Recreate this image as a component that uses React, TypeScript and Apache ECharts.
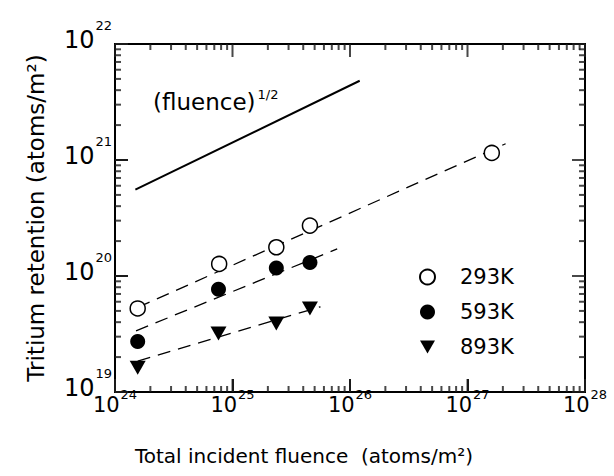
import React, { useEffect, useRef } from "react";
import * as echarts from "echarts";

const FONT = "DejaVu Sans";
const X_MIN = 1e24;
const X_MAX = 1e28;
const Y_MIN = 1e19;
const Y_MAX = 1e22;

// tick definitions
const xDecades = [24, 25, 26, 27, 28];
const yDecades = [19, 20, 21, 22];
const minorMultipliers = [2, 3, 4, 5, 6, 7, 8, 9];

// measured data
const fluence293 = [1.56e24, 7.7e24, 2.36e25, 4.56e25, 1.61e27];
const retention293 = [5.25e19, 1.27e20, 1.77e20, 2.72e20, 1.15e21];
const fluence593 = [1.56e24, 7.6e24, 2.36e25, 4.56e25];
const retention593 = [2.72e19, 7.7e19, 1.17e20, 1.31e20];
const fluence893 = [1.56e24, 7.6e24, 2.36e25, 4.56e25];
const retention893 = [1.62e19, 3.19e19, 3.9e19, 5.25e19];

// fitted (dashed) lines
const fit293X = [1.56e24, 2.11e27];
const fit293Y = [5.36e19, 1.38e21];
const fit593X = [1.51e24, 7.78e25];
const fit593Y = [3.37e19, 1.71e20];
const fit893X = [1.56e24, 5.61e25];
const fit893Y = [1.85e19, 5.43e19];

// (fluence)^1/2 reference line
const sqrtX = [1.49e24, 1.21e26];
const sqrtY = [5.55e20, 4.82e21];

const zip = (xs: number[], ys: number[]) => xs.map((x, i) => [x, ys[i]]);

const MAJOR_LEN = 13;
const MINOR_LEN = 6;
const TICK_W = 2;
const TICK_COLOR = "#1a1a1a";

// tick list: [value, isMajor]
const xTicks: number[][] = [];
xDecades.forEach((d, i) => {
  xTicks.push([Math.pow(10, d), 1]);
  if (i < xDecades.length - 1) minorMultipliers.forEach((m) => xTicks.push([m * Math.pow(10, d), 0]));
});
const yTicks: number[][] = [];
yDecades.forEach((d, i) => {
  yTicks.push([Math.pow(10, d), 1]);
  if (i < yDecades.length - 1) minorMultipliers.forEach((m) => yTicks.push([m * Math.pow(10, d), 0]));
});

const expLabel = (v: number) => `{b|10}{s|${Math.round(Math.log10(v))}}`;

// tick marks drawn as thin rect symbols placed by the axes' own scales
const tickSeries = (side: string) => {
  const horizontal = side === "bottom" || side === "top";
  const list = horizontal ? xTicks : yTicks;
  const sign = side === "bottom" || side === "right" ? -1 : 1;
  return {
    name: "ticks-" + side,
    type: "scatter",
    symbol: "rect",
    clip: false,
    itemStyle: { color: TICK_COLOR },
    data: list.map((t) => {
      const len = t[1] ? MAJOR_LEN : MINOR_LEN;
      let value: number[];
      if (side === "bottom") value = [t[0], Y_MIN];
      else if (side === "top") value = [t[0], Y_MAX];
      else if (side === "left") value = [X_MIN, t[0]];
      else value = [X_MAX, t[0]];
      return {
        value,
        symbolSize: horizontal ? [TICK_W, len] : [len, TICK_W],
        symbolOffset: horizontal ? [0, (sign * len) / 2] : [(sign * len) / 2, 0],
      };
    }),
  };
};

const option: any = {
  animation: false,
  backgroundColor: "#fff",
  grid: {
    left: 115,
    right: 29,
    top: 44,
    bottom: 84,
    show: true,
    borderColor: "#000",
    borderWidth: 2,
    backgroundColor: "transparent",
  },
  xAxis: {
    type: "log",
    min: X_MIN,
    max: X_MAX,
    axisLine: { show: false },
    axisTick: { show: true, inside: true, length: MAJOR_LEN, lineStyle: { color: TICK_COLOR, width: 2 } },
    splitLine: { show: false },
    axisLabel: {
      show: true,
      margin: 2,
      formatter: expLabel,
      verticalAlign: "top",
      rich: {
        b: { fontSize: 21, fontFamily: FONT, color: "#000", lineHeight: 21, verticalAlign: "bottom" },
        s: { fontSize: 13, fontFamily: FONT, color: "#000", lineHeight: 13, verticalAlign: "bottom", padding: [0, 0, 14, 1] },
      },
    },
  },
  yAxis: {
    type: "log",
    min: Y_MIN,
    max: Y_MAX,
    name: "Tritium retention (atoms/m²)",
    nameLocation: "middle",
    nameRotate: 90,
    nameGap: 68,
    nameTextStyle: { fontSize: 23, fontFamily: FONT, color: "#000" },
    axisLine: { show: false },
    axisTick: { show: true, inside: true, length: MAJOR_LEN, lineStyle: { color: TICK_COLOR, width: 2 } },
    splitLine: { show: false },
    axisLabel: {
      show: true,
      margin: 3,
      formatter: expLabel,
      verticalAlign: "middle",
      padding: [0, 0, 9, 0],
      rich: {
        b: { fontSize: 24, fontFamily: FONT, color: "#000", lineHeight: 24, verticalAlign: "bottom" },
        s: { fontSize: 13, fontFamily: FONT, color: "#000", lineHeight: 13, verticalAlign: "bottom", padding: [0, 0, 20, 1] },
      },
    },
  },
  legend: {
    data: [
      { name: "293K", icon: "circle" },
      { name: "593K", icon: "circle" },
      { name: "893K", icon: "path://M0,0L16,0L8,14Z" },
    ],
    orient: "vertical",
    left: 414,
    top: 260,
    itemWidth: 15,
    itemHeight: 15,
    itemGap: 11,
    selectedMode: false,
    textStyle: { fontSize: 21, fontFamily: FONT, color: "#000", lineHeight: 24, padding: [0, 0, 0, 20] },
  },
  graphic: [
    {
      type: "text",
      left: 153,
      top: 88,
      style: {
        text: "{a|(fluence)}{b|1/2}",
        rich: {
          a: { fontSize: 23, fontFamily: FONT, fill: "#000", lineHeight: 26, verticalAlign: "bottom" },
          b: { fontSize: 13, fontFamily: FONT, fill: "#000", lineHeight: 13, verticalAlign: "bottom", padding: [0, 0, 12, 2] },
        },
      },
    },
    {
      type: "text",
      x: 304,
      y: 456,
      style: {
        text: "Total incident fluence  (atoms/m²)",
        fontSize: 20,
        fontFamily: FONT,
        fill: "#000",
        align: "center",
        verticalAlign: "middle",
      },
    },
  ],
  series: [
    tickSeries("bottom"),
    tickSeries("top"),
    tickSeries("left"),
    tickSeries("right"),
    {
      type: "line",
      data: zip(sqrtX, sqrtY),
      showSymbol: false,
      silent: true,
      lineStyle: { color: "#000", width: 2 },
      z: 2,
    },
    {
      type: "line",
      data: zip(fit293X, fit293Y),
      showSymbol: false,
      silent: true,
      lineStyle: { color: "#000", width: 1.3, type: [13, 8] },
      z: 2,
    },
    {
      type: "line",
      data: zip(fit593X, fit593Y),
      showSymbol: false,
      silent: true,
      lineStyle: { color: "#000", width: 1.3, type: [13, 8] },
      z: 2,
    },
    {
      type: "line",
      data: zip(fit893X, fit893Y),
      showSymbol: false,
      silent: true,
      lineStyle: { color: "#000", width: 1.3, type: [13, 8] },
      z: 2,
    },
    {
      name: "293K",
      type: "scatter",
      data: zip(fluence293, retention293),
      symbol: "circle",
      symbolSize: 15,
      itemStyle: { color: "#fff", borderColor: "#000", borderWidth: 1.5, opacity: 1 },
      z: 3,
    },
    {
      name: "593K",
      type: "scatter",
      data: zip(fluence593, retention593),
      symbol: "circle",
      symbolSize: 15,
      itemStyle: { color: "#000", opacity: 1 },
      z: 3,
    },
    {
      name: "893K",
      type: "scatter",
      data: zip(fluence893, retention893),
      symbol: "triangle",
      symbolRotate: 180,
      symbolSize: [16, 14],
      itemStyle: { color: "#000", opacity: 1 },
      z: 3,
    },
  ],
};

export default function App() {
  const ref = useRef<HTMLDivElement>(null);
  useEffect(() => {
    if (!ref.current) return;
    const chart = echarts.init(ref.current, null, { renderer: "svg" });
    chart.setOption(option);
    return () => chart.dispose();
  }, []);
  return (
    <div
      ref={ref}
      style={{ position: "absolute", left: 0, top: 0, width: 614, height: 476, background: "#fff" }}
    />
  );
}
